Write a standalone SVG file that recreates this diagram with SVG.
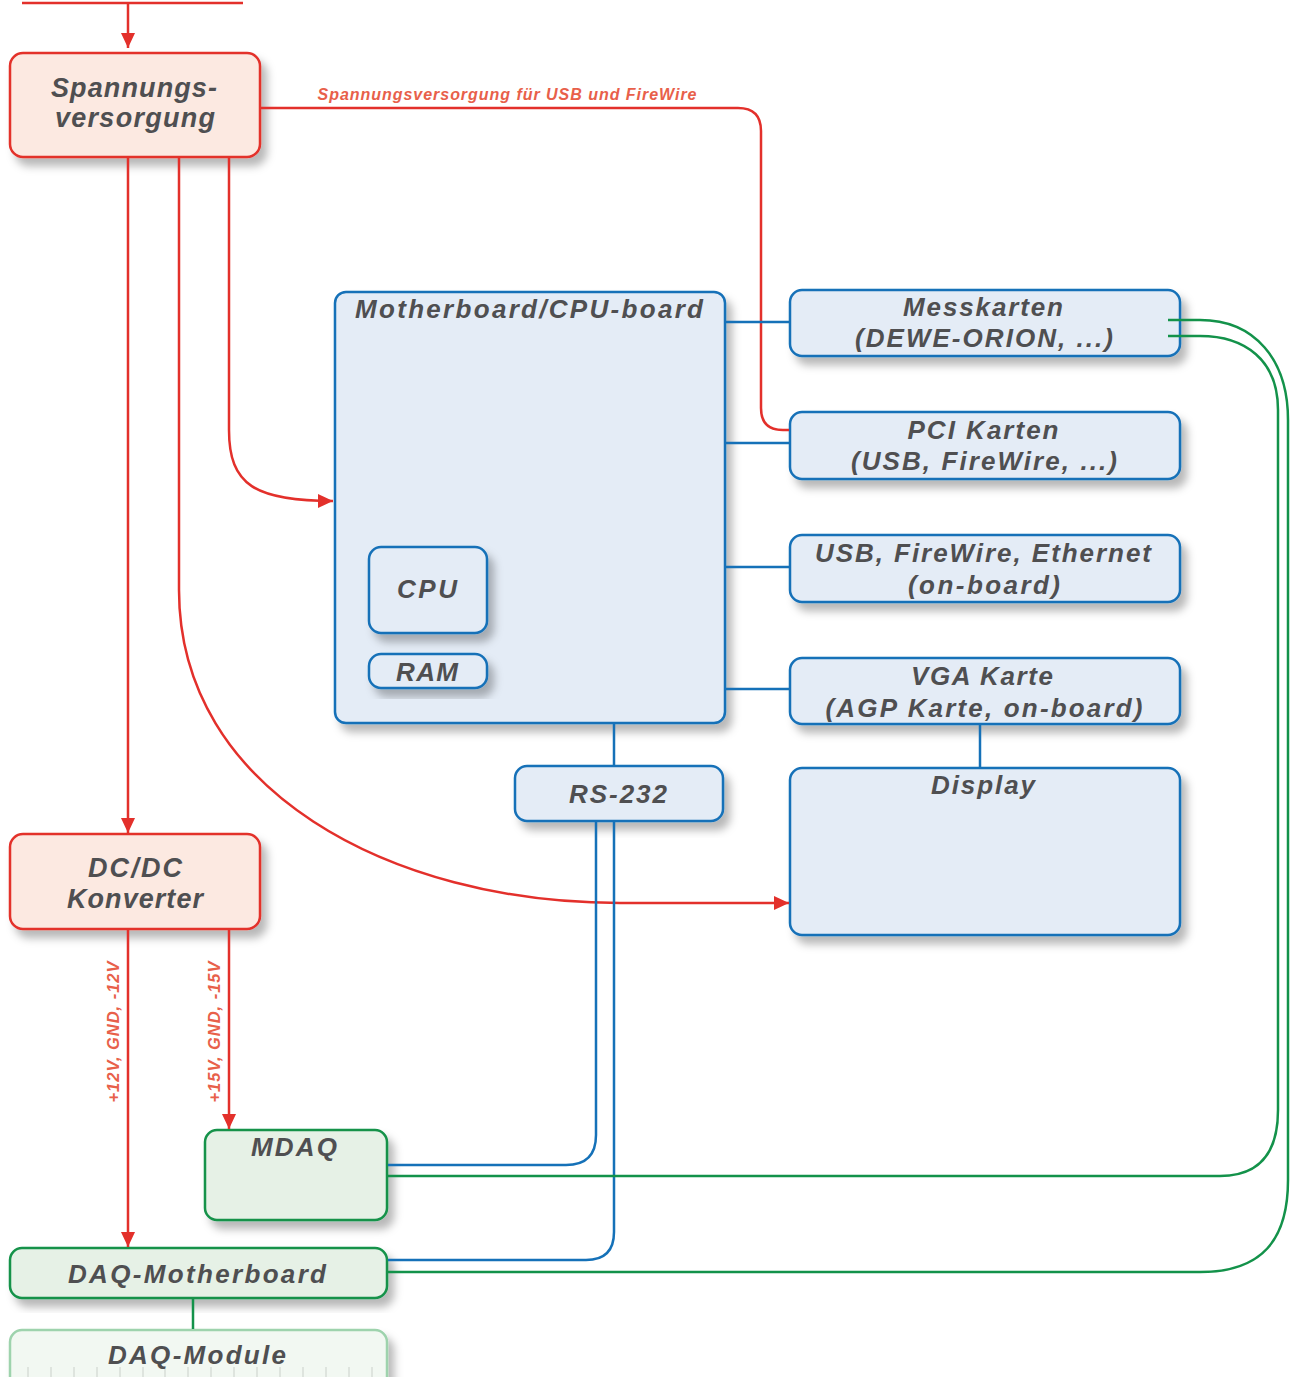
<svg xmlns="http://www.w3.org/2000/svg" width="1290" height="1377" viewBox="0 0 1290 1377">
<defs>
<filter id="sh" x="-20%" y="-20%" width="150%" height="150%">
<feDropShadow dx="6" dy="8" stdDeviation="4" flood-color="#000" flood-opacity="0.28"/>
</filter>
<marker id="ar" markerUnits="userSpaceOnUse" markerWidth="16" markerHeight="16" refX="15" refY="8" orient="auto">
<path d="M0,1 L15,8 L0,15 Z" fill="#e3302b"/>
</marker>
</defs>
<style>
.t{font-family:"Liberation Sans",Arial,sans-serif;font-weight:bold;font-style:italic;fill:#4f4f51;text-anchor:middle}
.lbl{font-family:"Liberation Sans",Arial,sans-serif;font-weight:bold;font-style:italic;fill:#e8604a;text-anchor:middle}
.red{fill:#fce9e1;stroke:#e3302b;stroke-width:2.5}
.blue{fill:#e4ecf6;stroke:#1571b8;stroke-width:2.5}
.green{fill:#e6f1e6;stroke:#13924a;stroke-width:2.5}
.lgreen{fill:#f2f8f2;stroke:#9ed3ad;stroke-width:2.5}
.rl{fill:none;stroke:#e3302b;stroke-width:2.5}
.bl{fill:none;stroke:#1571b8;stroke-width:2.5}
.gl{fill:none;stroke:#13924a;stroke-width:2.5}
</style>

<g id="spannungsversorgung">
<rect class="red" x="10" y="53" width="250" height="104" rx="13" filter="url(#sh)"/>
<text class="t" x="134" y="97" font-size="27" textLength="166">Spannungs-</text>
<text class="t" x="135" y="127" font-size="27" textLength="160">versorgung</text>
</g>
<text class="lbl" x="507" y="100" font-size="16" textLength="379">Spannungsversorgung für USB und FireWire</text>

<g id="motherboard">
<rect class="blue" x="335" y="292" width="390" height="431" rx="11" filter="url(#sh)"/>
<text class="t" x="529" y="318" font-size="26" textLength="348">Motherboard/CPU-board</text>
</g>
<g id="cpu">
<rect class="blue" x="369" y="547" width="118" height="86" rx="12" filter="url(#sh)"/>
<text class="t" x="427" y="598" font-size="26" textLength="60">CPU</text>
</g>
<g id="ram">
<rect class="blue" x="369" y="654" width="118" height="34" rx="12" filter="url(#sh)"/>
<text class="t" x="427" y="681" font-size="26" textLength="62">RAM</text>
</g>

<g id="messkarten">
<rect class="blue" x="790" y="290" width="390" height="66" rx="12" filter="url(#sh)"/>
<text class="t" x="983" y="316" font-size="26" textLength="160">Messkarten</text>
<text class="t" x="984" y="347" font-size="26" textLength="258">(DEWE-ORION, ...)</text>
</g>
<g id="pci">
<rect class="blue" x="790" y="412" width="390" height="67" rx="12" filter="url(#sh)"/>
<text class="t" x="983" y="439" font-size="26" textLength="151">PCI Karten</text>
<text class="t" x="984" y="470" font-size="26" textLength="266">(USB, FireWire, ...)</text>
</g>
<g id="usb">
<rect class="blue" x="790" y="535" width="390" height="67" rx="12" filter="url(#sh)"/>
<text class="t" x="983" y="562" font-size="26" textLength="336">USB, FireWire, Ethernet</text>
<text class="t" x="984" y="594" font-size="26" textLength="152">(on-board)</text>
</g>
<g id="vga">
<rect class="blue" x="790" y="658" width="390" height="66" rx="12" filter="url(#sh)"/>
<text class="t" x="982" y="685" font-size="26" textLength="142">VGA Karte</text>
<text class="t" x="984" y="717" font-size="26" textLength="317">(AGP Karte, on-board)</text>
</g>
<g id="display">
<rect class="blue" x="790" y="768" width="390" height="167" rx="12" filter="url(#sh)"/>
<text class="t" x="983" y="794" font-size="26" textLength="104">Display</text>
</g>
<g id="rs232">
<rect class="blue" x="515" y="766" width="208" height="55" rx="12" filter="url(#sh)"/>
<text class="t" x="618" y="803" font-size="26" textLength="98">RS-232</text>
</g>

<g id="dcdc">
<rect class="red" x="10" y="834" width="250" height="95" rx="13" filter="url(#sh)"/>
<text class="t" x="135" y="877" font-size="27" textLength="94">DC/DC</text>
<text class="t" x="135" y="908" font-size="27" textLength="136">Konverter</text>
</g>
<text class="lbl" transform="translate(119,1032) rotate(-90)" font-size="16.5" textLength="141">+12V, GND, -12V</text>
<text class="lbl" transform="translate(220,1032) rotate(-90)" font-size="16.5" textLength="141">+15V, GND, -15V</text>

<g id="mdaq">
<rect class="green" x="205" y="1130" width="182" height="90" rx="12" filter="url(#sh)"/>
<text class="t" x="294" y="1156" font-size="26" textLength="86">MDAQ</text>
</g>
<g id="daq-motherboard">
<rect class="green" x="10" y="1248" width="377" height="50" rx="12" filter="url(#sh)"/>
<text class="t" x="197" y="1283" font-size="26" textLength="258">DAQ-Motherboard</text>
</g>
<g id="daq-module">
<rect class="lgreen" x="10" y="1330" width="377" height="70" rx="12" filter="url(#sh)"/>
<path d="M28,1367V1377M51,1367V1377M74,1367V1377M97,1367V1377M120,1367V1377M143,1367V1377M165,1367V1377M188,1367V1377M211,1367V1377M234,1367V1377M257,1367V1377M280,1367V1377M303,1367V1377M326,1367V1377M349,1367V1377M372,1367V1377" stroke="#d8ddd8" stroke-width="1.5"/>
<text class="t" x="197" y="1364" font-size="26" textLength="178">DAQ-Module</text>
</g>

<g id="connectors">
<line class="rl" x1="22" y1="3" x2="243" y2="3"/>
<line class="rl" x1="128" y1="3" x2="128" y2="48" marker-end="url(#ar)"/>
<line class="rl" x1="128" y1="158" x2="128" y2="833" marker-end="url(#ar)"/>
<path class="rl" d="M229,158 V430 C229,485 255,501 333,501" marker-end="url(#ar)"/>
<path class="rl" d="M179,158 V590 C179,790 390,903 620,903 H789" marker-end="url(#ar)"/>
<path class="rl" d="M261,108 H738 Q761,108 761,131 V408 Q761,430 783,430 H789"/>
<line class="rl" x1="128" y1="930" x2="128" y2="1247" marker-end="url(#ar)"/>
<line class="rl" x1="229" y1="930" x2="229" y2="1129" marker-end="url(#ar)"/>

<line class="bl" x1="726" y1="322" x2="789" y2="322"/>
<line class="bl" x1="726" y1="443" x2="789" y2="443"/>
<line class="bl" x1="726" y1="567" x2="789" y2="567"/>
<line class="bl" x1="726" y1="689" x2="789" y2="689"/>
<line class="bl" x1="980" y1="725" x2="980" y2="767"/>
<line class="bl" x1="614" y1="724" x2="614" y2="765"/>
<path class="bl" d="M596,822 V1135 Q596,1165 566,1165 H388"/>
<path class="bl" d="M614,822 V1232 Q614,1260 586,1260 H388"/>

<path class="gl" d="M388,1176 H1220 C1262,1176 1278,1150 1278,1110 V410 C1278,360 1245,336 1200,336 H1168"/>
<path class="gl" d="M388,1272 H1200 C1262,1272 1288,1240 1288,1180 V420 C1288,360 1255,320 1200,320 H1168"/>
<line class="gl" x1="193" y1="1299" x2="193" y2="1329"/>
</g>
</svg>
